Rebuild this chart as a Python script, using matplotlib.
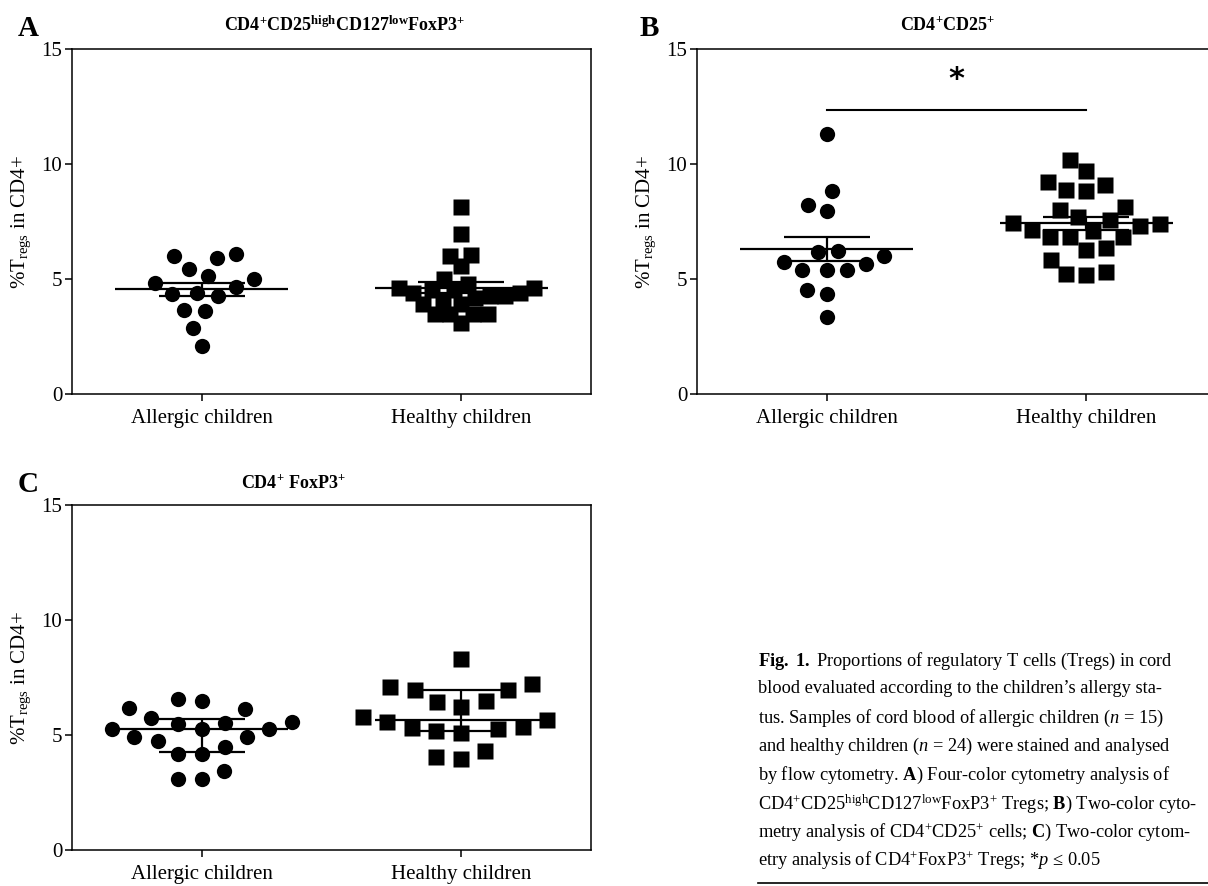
import numpy as np
import matplotlib
matplotlib.use("Agg")
import matplotlib.pyplot as plt
from matplotlib.lines import Line2D

plt.rcParams['font.family'] = ['Liberation Serif', 'DejaVu Serif']
plt.rcParams['mathtext.fontset'] = 'custom'
plt.rcParams['mathtext.rm'] = 'Liberation Serif'
plt.rcParams['mathtext.it'] = 'Liberation Serif:italic'
plt.rcParams['mathtext.bf'] = 'Liberation Serif:bold'

groups = ['Allergic children', 'Healthy children']

# Panel A: CD4+CD25highCD127lowFoxP3+ (mean +/- SEM)
a_allergic = [5.42, 6.00, 5.90, 6.10, 4.99, 4.65, 4.84, 5.13, 4.33, 4.26,
              4.40, 3.65, 3.60, 2.88, 2.09]
a_healthy = [8.13, 6.94, 6.04, 6.00, 5.56, 4.99, 4.62, 4.51, 4.40, 4.26,
             4.16, 4.07, 4.26, 4.40, 4.51, 4.62, 4.80, 3.93, 3.90, 3.49,
             3.49, 3.49, 3.49, 3.07]

# Panel B: CD4+CD25+ (mean +/- SEM)
b_allergic = [11.32, 8.81, 8.23, 7.97, 6.17, 6.20, 5.99, 5.67, 5.74, 5.38,
              5.38, 5.38, 4.54, 4.35, 3.33]
b_healthy = [10.16, 9.68, 9.20, 9.07, 8.88, 8.81, 8.12, 8.01, 7.68, 7.58,
             7.39, 7.29, 7.43, 7.10, 7.14, 6.81, 6.81, 6.81, 6.35, 6.28,
             5.81, 5.30, 5.23, 5.16]

# Panel C: CD4+ FoxP3+ (median + interquartile range)
c_allergic = [6.57, 6.13, 6.19, 6.49, 5.75, 5.26, 5.28, 5.46, 5.54, 5.57,
              5.28, 4.49, 4.75, 4.90, 4.90, 4.16, 4.17, 3.43, 3.07, 3.07]
c_healthy = [8.30, 7.20, 7.10, 6.96, 6.96, 6.45, 6.48, 6.23, 5.77, 5.65,
             5.29, 5.58, 5.33, 5.25, 5.19, 5.07, 4.32, 3.96, 4.06]

titles = [r'$\mathbf{CD4^{+}CD25^{high}CD127^{low}FoxP3^{+}}$',
          r'$\mathbf{CD4^{+}CD25^{+}}$',
          r'$\mathbf{CD4^{+}\ FoxP3^{+}}$']
panel_letters = ['A', 'B', 'C']
yticks = [0, 5, 10, 15]
sig_y = 12.35

caption = [
    r'$\mathbf{Fig.\ 1.}$ Proportions of regulatory T cells (Tregs) in cord',
    'blood evaluated according to the children\u2019s allergy sta-',
    r'tus. Samples of cord blood of allergic children ($n$ = 15)',
    r'and healthy children ($n$ = 24) were stained and analysed',
    r'by flow cytometry. $\mathbf{A}$) Four-color cytometry analysis of',
    r'CD4$^{+}$CD25$^{\mathrm{high}}$CD127$^{\mathrm{low}}$FoxP3$^{+}$ Tregs; $\mathbf{B}$) Two-color cyto-',
    r'metry analysis of CD4$^{+}$CD25$^{+}$ cells; $\mathbf{C}$) Two-color cytom-',
    r'etry analysis of CD4$^{+}$FoxP3$^{+}$ Tregs; *$p$ ≤ 0.05',
]


def swarm_offsets(values, ax, diam_px):
    bbox = ax.get_window_extent()
    x0, x1 = ax.get_xlim()
    y0, y1 = ax.get_ylim()
    px_x = bbox.width / (x1 - x0)
    px_y = bbox.height / (y1 - y0)
    vals = np.asarray(values)
    offs = np.zeros(len(vals))
    placed = []
    for i in np.argsort(vals, kind='stable'):
        y = vals[i] * px_y
        cands = [0.0]
        for xp, yp in placed:
            dy = abs(y - yp)
            if dy < diam_px:
                dx = np.sqrt(diam_px ** 2 - dy ** 2)
                cands += [xp - dx, xp + dx]
        cands.sort(key=abs)
        for c in cands:
            if all((c - xp) ** 2 + (y - yp) ** 2 >= diam_px ** 2 - 1e-6
                   for xp, yp in placed):
                break
        placed.append((c, y))
        offs[i] = c / px_x
    return offs


W, H = 1208, 886
fig = plt.figure(figsize=(W / 100, H / 100), dpi=100)

# axes boxes in pixels: left, top, width, height
boxes = [(72, 49, 519, 345), (697, 49, 519, 345), (72, 505, 519, 345)]
data = [(a_allergic, a_healthy, 'sem'),
        (b_allergic, b_healthy, 'sem'),
        (c_allergic, c_healthy, 'iqr')]
spacing = [(20, 15), (20, 20), (24, 25)]

axes = []
for k, ((l, t, w, h), (g1, g2, stat)) in enumerate(zip(boxes, data)):
    ax = fig.add_axes([l / W, 1 - (t + h) / H, w / W, h / H])
    ax.set_xlim(-0.5, 1.5)
    ax.set_ylim(0, 15)
    for i, (vals, marker) in enumerate([(g1, 'o'), (g2, 's')]):
        vals = np.asarray(vals)
        offs = swarm_offsets(vals, ax, spacing[k][i])
        ax.plot(i + offs, vals, linestyle='none', marker=marker, ms=11,
                mfc='black', mec='none', zorder=2)
        if stat == 'sem':
            mid = vals.mean()
            err = vals.std(ddof=1) / np.sqrt(len(vals))
            lo, hi = mid - err, mid + err
        else:
            mid = np.median(vals)
            lo = np.percentile(vals, 25, method='weibull')
            hi = np.percentile(vals, 75, method='weibull')
        ax.hlines(mid, i - 0.333, i + 0.333, color='black', lw=1.6, zorder=3)
        ax.vlines(i, lo, hi, color='black', lw=1.6, zorder=3)
        ax.hlines([lo, hi], i - 0.165, i + 0.165, color='black', lw=1.6, zorder=3)

    ax.set_xticks([0, 1])
    ax.set_xticklabels(groups)
    ax.set_yticks(yticks)
    ax.tick_params(axis='both', direction='out', length=5, width=1.1,
                   labelsize=15, top=False, right=False)
    ax.tick_params(axis='y', pad=2)
    ax.tick_params(axis='x', pad=6)
    for s in ax.spines.values():
        s.set_linewidth(1.1)
    ax.set_ylabel(r'%T$_{\mathrm{regs}}$ in CD4+', fontsize=15, labelpad=6)
    axes.append(ax)

# significance bar on panel B
axes[1].plot([0, 1], [sig_y, sig_y], color='black', lw=1.5)
axes[1].text(0.5, sig_y + 0.7, '*', ha='center', va='bottom', fontsize=22,
             family='DejaVu Sans', fontweight='bold')

# panel letters and titles
letter_pos = [(18, 36), (640, 36), (18, 492)]
title_pos = [(345, 25), (948, 25), (293, 483)]
for letter, (lx, ly), title, (tx, ty) in zip(panel_letters, letter_pos, titles, title_pos):
    fig.text(lx / W, 1 - ly / H, letter, fontsize=21, fontweight='bold',
             va='baseline', ha='left')
    fig.text(tx / W, 1 - ty / H, title, fontsize=13, ha='center', va='center')

# caption block
for j, line in enumerate(caption):
    fig.text(758 / W, 1 - (658 + j * 28.5) / H, line, fontsize=13.2,
             ha='left', va='center_baseline')
fig.add_artist(Line2D([758 / W, 1.0], [1 - 883 / H, 1 - 883 / H],
                      transform=fig.transFigure, color='black', lw=1.2))

fig.savefig('out.png', dpi=100)
